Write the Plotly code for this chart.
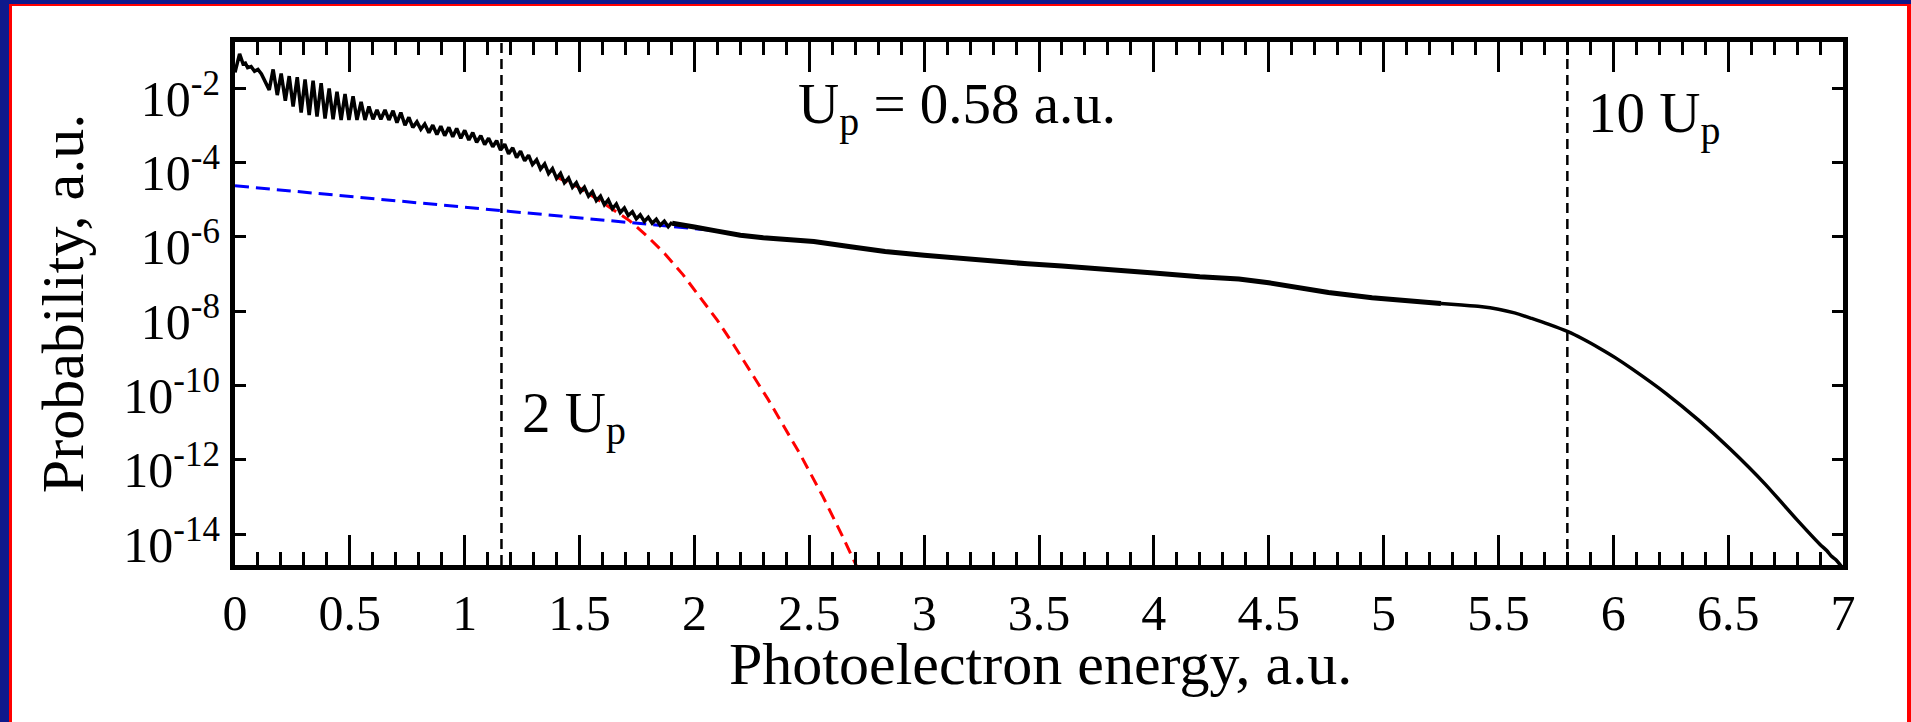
import plotly.graph_objects as go

# ---------------- data ----------------
# black curve: photoelectron energy (a.u.) and log10(probability)
energy_black = [
    0.0, 0.02, 0.035, 0.045, 0.055, 0.07, 0.085, 0.10, 0.115,
    0.149, 0.166, 0.184, 0.201, 0.219, 0.236, 0.253, 0.271, 0.288, 0.305,
    0.323, 0.340, 0.357, 0.375, 0.392, 0.410, 0.427, 0.444, 0.462, 0.479,
    0.496, 0.514, 0.531, 0.549, 0.566, 0.583, 0.601, 0.618, 0.635, 0.653,
    0.670, 0.688, 0.705, 0.722, 0.740, 0.757, 0.774, 0.792, 0.809, 0.826,
    0.844, 0.861, 0.879, 0.896, 0.913, 0.931, 0.948, 0.965, 0.983, 1.000,
    1.018, 1.035, 1.052, 1.070, 1.087, 1.104, 1.122, 1.139, 1.156, 1.174,
    1.191, 1.209, 1.226, 1.243, 1.261, 1.278, 1.295, 1.313, 1.330, 1.348,
    1.365, 1.382, 1.400, 1.417, 1.434, 1.452, 1.469, 1.486, 1.504, 1.521,
    1.539, 1.556, 1.573, 1.591, 1.608, 1.625, 1.643, 1.660, 1.677, 1.695,
    1.712, 1.730, 1.747, 1.764, 1.782, 1.799, 1.816, 1.834, 1.851, 1.869,
    1.886, 1.903,
]
log10_prob_black = [
    -1.58, -1.08, -1.35, -1.33, -1.45, -1.42, -1.55, -1.50, -1.62,
    -2.05, -1.50, -2.19, -1.61, -2.34, -1.68, -2.50, -1.71, -2.66, -1.77,
    -2.73, -1.80, -2.77, -1.87, -2.82, -2.01, -2.84, -2.10, -2.86, -2.16,
    -2.86, -2.22, -2.86, -2.37, -2.86, -2.50, -2.84, -2.59, -2.84, -2.59,
    -2.86, -2.61, -2.93, -2.66, -3.00, -2.79, -3.06, -2.91, -3.11, -2.97,
    -3.20, -3.00, -3.25, -3.03, -3.28, -3.06, -3.31, -3.09, -3.35, -3.14,
    -3.40, -3.20, -3.46, -3.28, -3.52, -3.35, -3.58, -3.42, -3.67, -3.51,
    -3.77, -3.61, -3.87, -3.70, -3.96, -3.81, -4.06, -3.93, -4.18, -4.04,
    -4.30, -4.17, -4.43, -4.30, -4.55, -4.42, -4.67, -4.55, -4.79, -4.67,
    -4.91, -4.79, -5.03, -4.91, -5.14, -5.01, -5.25, -5.12, -5.35, -5.23,
    -5.43, -5.33, -5.52, -5.41, -5.59, -5.48, -5.64, -5.53, -5.69, -5.58,
    -5.73, -5.61,
]
# plateau (rippled band) part of the black curve
energy_plateau = [
    1.903, 1.95, 2.0, 2.1, 2.2, 2.3, 2.52, 2.68, 2.83, 3.0, 3.14, 3.3, 3.45,
    3.6, 3.77, 3.9, 4.0, 4.2, 4.37, 4.5, 4.565, 4.7, 4.76, 4.95, 5.15, 5.25,
]
log10_prob_plateau = [
    -5.64, -5.70, -5.74, -5.85, -5.96, -6.03, -6.13, -6.27, -6.40, -6.50,
    -6.58, -6.66, -6.73, -6.79, -6.86, -6.92, -6.98, -7.08, -7.14, -7.24,
    -7.30, -7.45, -7.50, -7.64, -7.75, -7.80,
]
# high-energy cutoff part of the black curve
energy_cutoff = [
    5.25, 5.34, 5.42, 5.50, 5.57, 5.645, 5.72, 5.80, 5.87, 5.94, 6.01, 6.08,
    6.23, 6.37, 6.51, 6.66, 6.80, 6.90, 6.93, 6.95, 6.97, 6.99, 7.0,
]
log10_prob_cutoff = [
    -7.80, -7.84, -7.88, -7.95, -8.05, -8.20, -8.36, -8.55, -8.76, -9.00,
    -9.26, -9.55, -10.22, -10.93, -11.72, -12.65, -13.62, -14.28, -14.45,
    -14.60, -14.70, -14.85, -14.95,
]

# blue dashed straight fit
energy_blue = [0.0, 2.1]
log10_prob_blue = [-4.63, -5.84]

# red dashed fit
energy_red = [1.40, 1.49, 1.60, 1.72, 1.80, 1.87, 1.95, 2.02, 2.10, 2.17,
              2.32, 2.46, 2.56, 2.64, 2.72]
log10_prob_red = [-4.40, -4.65, -5.08, -5.58, -6.02, -6.45, -7.02, -7.58,
                  -8.25, -8.90, -10.37, -11.85, -13.00, -14.00, -15.05]

# vertical markers (2 Up and 10 Up)
marker_energies = [1.16, 5.80]

# axis ticks
x_tick_vals = [0, 0.5, 1, 1.5, 2, 2.5, 3, 3.5, 4, 4.5, 5, 5.5, 6, 6.5, 7]
x_tick_text = ["0", "0.5", "1", "1.5", "2", "2.5", "3", "3.5", "4", "4.5",
               "5", "5.5", "6", "6.5", "7"]
y_tick_exponents = [-2, -4, -6, -8, -10, -12, -14]

# ---------------- figure ----------------
FONT = "Liberation Serif, Times New Roman, serif"

fig = go.Figure()
fig.add_trace(go.Scatter(
    x=energy_blue, y=[10 ** v for v in log10_prob_blue], mode="lines",
    line=dict(color="#0000ff", width=3, dash="14px,7px"), hoverinfo="skip"))
fig.add_trace(go.Scatter(
    x=energy_red, y=[10 ** v for v in log10_prob_red], mode="lines",
    line=dict(color="#ff0000", width=3, dash="12px,7px"), hoverinfo="skip"))
fig.add_trace(go.Scatter(
    x=energy_black, y=[10 ** v for v in log10_prob_black], mode="lines",
    line=dict(color="black", width=3.5), hoverinfo="skip"))
fig.add_trace(go.Scatter(
    x=energy_plateau, y=[10 ** v for v in log10_prob_plateau], mode="lines",
    line=dict(color="black", width=5), hoverinfo="skip"))
fig.add_trace(go.Scatter(
    x=energy_cutoff, y=[10 ** v for v in log10_prob_cutoff], mode="lines",
    line=dict(color="black", width=3.5, shape="spline", smoothing=0.6),
    hoverinfo="skip"))

for e in marker_energies:
    fig.add_shape(type="line", xref="x", yref="paper", x0=e, x1=e, y0=0, y1=1,
                  line=dict(color="black", width=2.5, dash="10px,6px"))

# page frame (blue band + red line)
L_M, R_M, T_M, B_M = 235, 68, 42, 157
W, H = 1911, 722
PW, PH = W - L_M - R_M, H - T_M - B_M


def px(xp):
    return (xp - L_M) / PW


def py(yp):
    return (H - B_M - yp) / PH


frame_rects = [
    (0, 0, 9, H, "#0f198c"),
    (0, 0, W, 4, "#0f198c"),
    (9, 4, 12, H, "#ff0000"),
    (9, 4, W, 6, "#ff0000"),
    (1907, 4, W, H, "#ff0000"),
]
for x0, y0, x1, y1, c in frame_rects:
    fig.add_shape(type="rect", xref="paper", yref="paper",
                  x0=px(x0), x1=px(x1), y0=py(y1), y1=py(y0),
                  line=dict(width=0), fillcolor=c, layer="above")

ann_font = dict(family=FONT, size=57, color="black")
fig.add_annotation(x=2.44, y=-2.55, xref="x", yref="y", text="U<sub>p</sub> = 0.58 a.u.",
                   showarrow=False, xanchor="left", yanchor="middle", font=ann_font)
fig.add_annotation(x=1.24, y=-10.85, xref="x", yref="y", text="2 U<sub>p</sub>",
                   showarrow=False, xanchor="left", yanchor="middle", font=ann_font)
fig.add_annotation(x=5.88, y=-2.79, xref="x", yref="y", text="10 U<sub>p</sub>",
                   showarrow=False, xanchor="left", yanchor="middle", font=ann_font)
# x-axis title placed as an annotation for exact vertical placement
fig.add_annotation(x=px(1040), y=py(664), xref="paper", yref="paper",
                   text="Photoelectron energy, a.u.", showarrow=False,
                   xanchor="center", yanchor="middle",
                   font=dict(family=FONT, size=60, color="black"))

fig.update_layout(
    width=W, height=H,
    margin=dict(l=L_M, r=R_M, t=T_M, b=B_M, autoexpand=False),
    paper_bgcolor="white", plot_bgcolor="white", showlegend=False,
    font=dict(family=FONT, color="black"),
)
fig.update_xaxes(
    range=[0, 7], tickmode="array", tickvals=x_tick_vals, ticktext=x_tick_text,
    ticks="inside", ticklen=30, tickwidth=3, tickcolor="black",
    showline=True, linewidth=5, linecolor="black", mirror="allticks",
    showgrid=False, zeroline=False,
    tickfont=dict(family=FONT, size=50, color="black"),
    minor=dict(dtick=0.1, tick0=0, ticks="inside", ticklen=13, tickwidth=3,
               tickcolor="black", showgrid=False),
)
fig.update_yaxes(
    type="log", range=[-14.833, -0.762], tickmode="array",
    tickvals=[10.0 ** k for k in y_tick_exponents],
    ticktext=["10<sup>%d</sup>" % k for k in y_tick_exponents],
    ticks="inside", ticklen=11, tickwidth=3, tickcolor="black",
    showline=True, linewidth=5, linecolor="black", mirror="allticks",
    showgrid=False, zeroline=False, ticklabelshift=10,
    tickfont=dict(family=FONT, size=50, color="black"),
    title=dict(text="Probability, a.u.", standoff=22,
               font=dict(family=FONT, size=60, color="black")),
)

fig.write_html("out.html")
